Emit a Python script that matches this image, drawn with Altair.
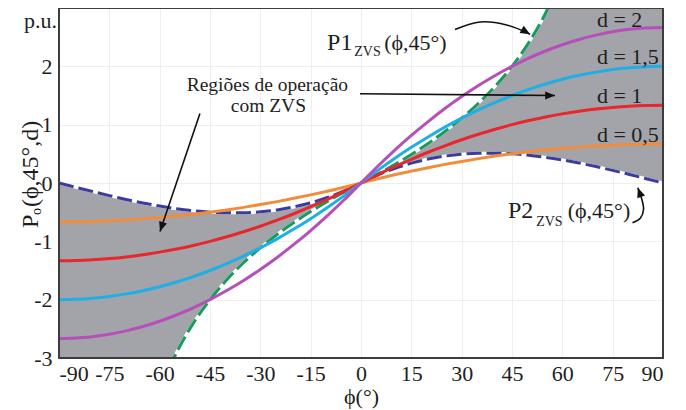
import altair as alt
import pandas as pd

FONT = "Liberation Serif"
TXT = "#1e1e1e"

# ---- data (phi in degrees, values in p.u.) ----
phi = [-90, -85, -80, -75, -70, -65, -60, -55, -50, -45, -40, -35, -30, -25, -20, -15, -10, -5,
       0, 5, 10, 15, 20, 25, 30, 35, 40, 45, 50, 55, 60, 65, 70, 75, 80, 85, 90]

d05 = [-0.667, -0.665, -0.658, -0.648, -0.634, -0.615, -0.593, -0.566, -0.535, -0.5, -0.461, -0.418, -0.370,
       -0.319, -0.263, -0.204, -0.140, -0.072, 0, 0.072, 0.140, 0.204, 0.263, 0.319, 0.370, 0.418, 0.461,
       0.5, 0.535, 0.566, 0.593, 0.615, 0.634, 0.648, 0.658, 0.665, 0.667]
d1 = [-1.333, -1.329, -1.317, -1.296, -1.267, -1.230, -1.185, -1.132, -1.070, -1.0, -0.922, -0.835, -0.741,
      -0.638, -0.527, -0.407, -0.280, -0.144, 0, 0.144, 0.280, 0.407, 0.527, 0.638, 0.741, 0.835, 0.922,
      1.0, 1.070, 1.132, 1.185, 1.230, 1.267, 1.296, 1.317, 1.329, 1.333]
d15 = [-2.0, -1.994, -1.975, -1.944, -1.901, -1.846, -1.778, -1.698, -1.605, -1.5, -1.383, -1.253, -1.111,
       -0.957, -0.790, -0.611, -0.420, -0.216, 0, 0.216, 0.420, 0.611, 0.790, 0.957, 1.111, 1.253, 1.383,
       1.5, 1.605, 1.698, 1.778, 1.846, 1.901, 1.944, 1.975, 1.994, 2.0]
d2 = [-2.667, -2.658, -2.634, -2.593, -2.535, -2.461, -2.370, -2.263, -2.140, -2.0, -1.844, -1.671, -1.481,
      -1.276, -1.053, -0.815, -0.560, -0.288, 0, 0.288, 0.560, 0.815, 1.053, 1.276, 1.481, 1.671, 1.844,
      2.0, 2.140, 2.263, 2.370, 2.461, 2.535, 2.593, 2.634, 2.658, 2.667]
# ZVS boundaries (P1 leaves the plot near |phi| = 56)
p1_zvs = [-4, -4, -4, -4, -4, -4, -3.556, -2.910, -2.407, -2.0, -1.659, -1.367, -1.111, -0.883, -0.677,
          -0.489, -0.315, -0.153, 0, 0.153, 0.315, 0.489, 0.677, 0.883, 1.111, 1.367, 1.659, 2.0, 2.407,
          2.910, 3.556, 4, 4, 4, 4, 4, 4]
p2_zvs = [0, -0.074, -0.146, -0.216, -0.282, -0.342, -0.395, -0.440, -0.476, -0.5, -0.512, -0.511, -0.494,
          -0.461, -0.410, -0.340, -0.249, -0.136, 0, 0.136, 0.249, 0.340, 0.410, 0.461, 0.494, 0.511, 0.512,
          0.5, 0.476, 0.440, 0.395, 0.342, 0.282, 0.216, 0.146, 0.074, 0]

series_names = ["d05", "d1", "d15", "d2"]
series_colors = ["#f28c3a", "#e8262b", "#1faee6", "#b64fba"]
x_ticks = [-90, -75, -60, -45, -30, -15, 0, 15, 30, 45, 60, 75, 90]
y_ticks = [-3, -2, -1, 0, 1, 2, 3]

d_labels = ["d = 2", "d = 1,5", "d = 1", "d = 0,5"]
d_label_phi = [70.3, 70.3, 70.3, 70.3]
d_label_v = [2.68, 2.04, 1.38, 0.70]

# annotation arrows (data coordinates)
arrow_grp = ["a1"] * 4 + ["a2"] * 2 + ["a3"] * 2 + ["a4"] * 5
arrow_phi = [28.0, 35.5, 43.4, 50.4, -0.3, 57.8, -48.0, -59.9, 80.9, 83.3, 84.2, 83.7, 82.5]
arrow_v = [2.63, 2.76, 2.71, 2.55, 1.53, 1.50, 1.19, -0.83, -0.68, -0.60, -0.45, -0.28, -0.08]
head_phi = [50.4, 57.8, -59.9, 82.5]
head_v = [2.55, 1.50, -0.83, -0.08]
head_angle = [30, 0, 108, 250]

# ---- tables ----
curves = pd.DataFrame({
    "phi": phi * 4,
    "v": d05 + d1 + d15 + d2,
    "serie": sum([[n] * len(phi) for n in series_names], []),
})
bounds = pd.DataFrame({"phi": phi, "p1": p1_zvs, "p2": p2_zvs})
arrows = pd.DataFrame({"phi": arrow_phi, "v": arrow_v, "grp": arrow_grp,
                       "ord": list(range(len(arrow_phi)))})
heads = pd.DataFrame({"phi": head_phi, "v": head_v, "angle": head_angle})
dlab = pd.DataFrame({"phi": d_label_phi, "v": d_label_v, "text": d_labels})
reg = pd.DataFrame({"phi": [-27.9, -27.6], "v": [1.58, 1.22],
                    "text": ["Regiões de operação", "com ZVS"]})
big_lab = pd.DataFrame({"phi": [-10.1, 43.8], "v": [2.276, -0.605], "text": ["P1", "P2"]})
main_lab = pd.DataFrame({"phi": [6.9, 61.6], "v": [2.276, -0.605], "text": ["(ϕ,45°)", "(ϕ,45°)"]})
sub_lab = pd.DataFrame({"phi": [-2.0, 52.2], "v": [2.175, -0.74], "text": ["ZVS", "ZVS"]})
one = pd.DataFrame({"a": [0]})

W, H = 604, 350

xscale = alt.Scale(domain=[-90, 90], nice=False, zero=False)
yscale = alt.Scale(domain=[-3, 3], nice=False, zero=False)
xaxis = alt.Axis(values=x_ticks, labelExpr="'' + datum.value", title="ϕ(°)", ticks=False,
                 domain=False, labelPadding=5, labelFont=FONT, labelFontSize=22, labelColor=TXT,
                 labelAngle=0, titleFont=FONT, titleFontSize=22, titleFontWeight="normal",
                 titleColor=TXT, titlePadding=2, grid=True, gridColor="#efefef", gridWidth=1)
yaxis = alt.Axis(values=y_ticks, labelExpr="datum.value == 3 ? '' : '' + datum.value", title=None,
                 ticks=False, domain=False, labelPadding=7, labelFont=FONT, labelFontSize=22,
                 labelColor=TXT, grid=True, gridColor="#efefef", gridWidth=1)


def X(f="phi"):
    return alt.X(f"{f}:Q", scale=xscale, axis=xaxis)


def Y(f="v"):
    return alt.Y(f"{f}:Q", scale=yscale, axis=yaxis)


base_b = alt.Chart(bounds)
area = base_b.mark_area(color="#a2a4aa", interpolate="monotone", clip=True).encode(
    x=X(), y=Y("p2"), y2="p1:Q")
p1_under = base_b.mark_line(color="white", strokeWidth=3, interpolate="monotone", clip=True).encode(
    x=X(), y=Y("p1"))
p2_under = base_b.mark_line(color="white", strokeWidth=3, interpolate="monotone", clip=True).encode(
    x=X(), y=Y("p2"))
p1_line = base_b.mark_line(color="#179c5e", strokeWidth=3, strokeDash=[15, 5],
                           interpolate="monotone", clip=True).encode(x=X(), y=Y("p1"))
p2_line = base_b.mark_line(color="#3c3c9e", strokeWidth=3, strokeDash=[15, 5],
                           interpolate="monotone", clip=True).encode(x=X(), y=Y("p2"))

dlines = alt.Chart(curves).mark_line(strokeWidth=3, interpolate="monotone", clip=True).encode(
    x=X(), y=Y(),
    color=alt.Color("serie:N", scale=alt.Scale(domain=series_names, range=series_colors), legend=None),
    detail="serie:N")

arrow_lines = alt.Chart(arrows).mark_line(color="#111", strokeWidth=1.6, interpolate="cardinal").encode(
    x=X(), y=Y(), detail="grp:N", order="ord:Q")
arrow_heads = alt.Chart(heads).mark_point(shape="M0,0 L-1,-0.42 L-1,0.42 Z", filled=True, color="#111",
                                          size=380, opacity=1).encode(
    x=X(), y=Y(), angle=alt.Angle("angle:Q", scale=None))

dlab_t = alt.Chart(dlab).mark_text(font=FONT, fontSize=22, color=TXT, align="left",
                                   baseline="alphabetic").encode(x=X(), y=Y(), text="text:N")
reg_t = alt.Chart(reg).mark_text(font=FONT, fontSize=19.5, color=TXT, align="center",
                                 baseline="alphabetic").encode(x=X(), y=Y(), text="text:N")
big_t = alt.Chart(big_lab).mark_text(font=FONT, fontSize=24, color=TXT, align="left",
                                     baseline="alphabetic").encode(x=X(), y=Y(), text="text:N")
main_t = alt.Chart(main_lab).mark_text(font=FONT, fontSize=22, color=TXT, align="left",
                                       baseline="alphabetic").encode(x=X(), y=Y(), text="text:N")
sub_t = alt.Chart(sub_lab).mark_text(font=FONT, fontSize=14, color=TXT, align="left",
                                     baseline="alphabetic").encode(x=X(), y=Y(), text="text:N")

frame = alt.Chart(one).mark_rect(fillOpacity=0, stroke="#3d3d3d", strokeWidth=2).encode(
    x=alt.value(0), x2=alt.value(W), y=alt.value(0), y2=alt.value(H))

pu = alt.Chart(one).mark_text(text="p.u.", font=FONT, fontSize=22, color=TXT, align="right",
                              baseline="alphabetic").encode(x=alt.value(-2), y=alt.value(20))
yt_p = alt.Chart(one).mark_text(text="P", font=FONT, fontSize=24, color=TXT, align="left",
                                baseline="alphabetic", angle=270).encode(x=alt.value(-21), y=alt.value(220))
yt_o = alt.Chart(one).mark_text(text="o", font=FONT, fontSize=14, color=TXT, align="left",
                                baseline="alphabetic", angle=270).encode(x=alt.value(-18), y=alt.value(207))
yt_r = alt.Chart(one).mark_text(text="(ϕ,45°,d)", font=FONT, fontSize=24, color=TXT, align="left",
                                baseline="alphabetic", angle=270).encode(x=alt.value(-21), y=alt.value(199))

chart = alt.layer(
    area, p1_under, p2_under, p1_line, p2_line, dlines, arrow_lines, arrow_heads,
    dlab_t, reg_t, big_t, main_t, sub_t, frame, pu, yt_p, yt_o, yt_r
).properties(
    width=W, height=H,
    autosize=alt.AutoSizeParams(type="none"),
    padding={"left": 51, "top": 0, "right": 8, "bottom": 54},
).configure_view(stroke=None).configure(background="white")

chart.save("out.html", embed_options={"renderer": "svg", "actions": False})
